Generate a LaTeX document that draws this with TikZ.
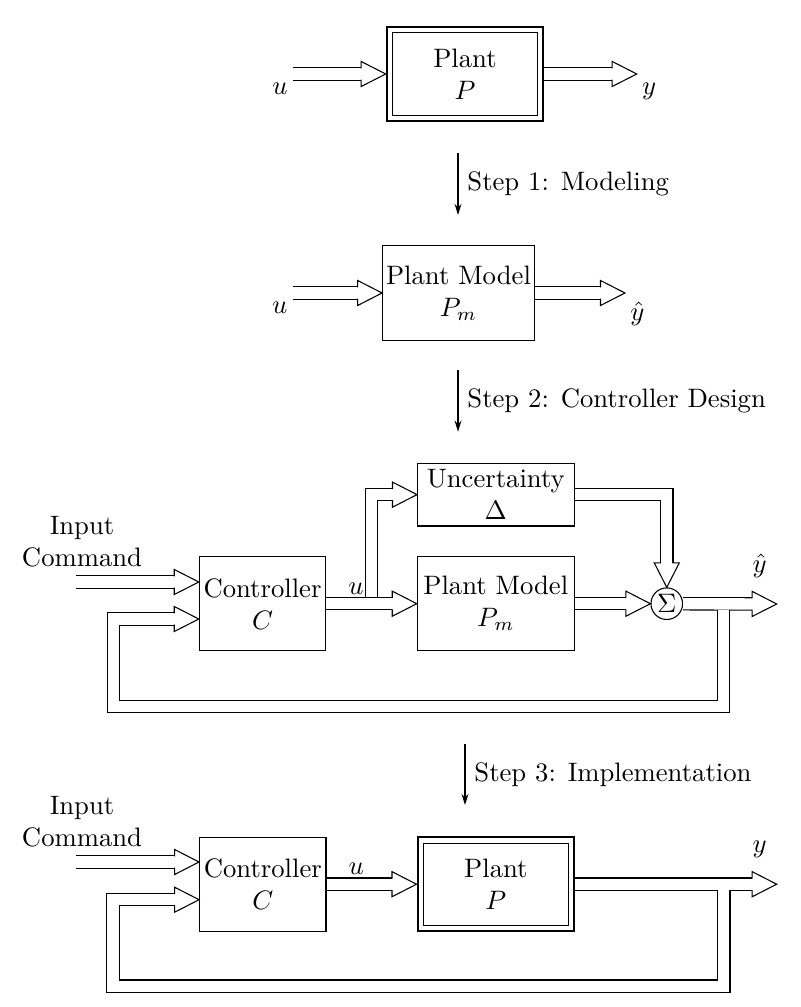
\documentclass[tikz,border=0pt]{standalone}
\usetikzlibrary{arrows.meta,positioning}

% hollow head for the double signal lines
\pgfdeclarearrow{
  name = Hollow,
  parameters = {\the\pgfarrowlength,\the\pgfarrowwidth},
  setup code = {
    \pgfarrowssettipend{0pt}
    \pgfarrowssetlineend{-\pgfarrowlength}
    \pgfarrowssetbackend{-\pgfarrowlength}
    \pgfarrowssetvisualbackend{-\pgfarrowlength}
    \pgfarrowshullpoint{0pt}{0pt}
    \pgfarrowsupperhullpoint{-\pgfarrowlength}{.5\pgfarrowwidth}
    \pgfarrowssavethe\pgfarrowlength
    \pgfarrowssavethe\pgfarrowwidth
  },
  drawing code = {
    \pgfsetlinewidth{0.4pt}
    \pgfsetmiterjoin
    \pgfpathmoveto{\pgfqpoint{-\pgfarrowlength}{.5\pgfarrowwidth}}
    \pgfpathlineto{\pgfqpoint{0pt}{0pt}}
    \pgfpathlineto{\pgfqpoint{-\pgfarrowlength}{-.5\pgfarrowwidth}}
    \pgfpathclose
    \pgfsetfillcolor{white}
    \pgfusepathqfill
    \pgfpathmoveto{\pgfqpoint{-\pgfarrowlength}{2.1pt}}
    \pgfpathlineto{\pgfqpoint{-\pgfarrowlength}{.5\pgfarrowwidth}}
    \pgfpathlineto{\pgfqpoint{0pt}{0pt}}
    \pgfpathlineto{\pgfqpoint{-\pgfarrowlength}{-.5\pgfarrowwidth}}
    \pgfpathlineto{\pgfqpoint{-\pgfarrowlength}{-2.1pt}}
    \pgfusepathqstroke
  },
  defaults = {length=9.2pt, width=9.4pt}
}

\begin{document}
\begin{tikzpicture}[x=0.375pt,y=-0.375pt,
  block/.style={draw, rectangle, inner sep=1pt, align=center, minimum height=35.3pt},
  plantbox/.style={block, line width=0.8pt, minimum width=58.7pt, minimum height=35.2pt,
    path picture={\draw[line width=0.4pt]
      ([shift={(2.2pt,2.2pt)}]path picture bounding box.south west) rectangle
      ([shift={(-2.2pt,-2.2pt)}]path picture bounding box.north east);}},
  sig/.style={double, double distance=4.25pt, -Hollow},
  stepline/.style={-{Stealth[length=4.2pt,width=2.6pt]}},
  sumnode/.style={draw, circle, inner sep=0pt, minimum size=11.85pt}]
  \useasboundingbox (0,0) rectangle (800,1007);

  % the plant
  \node[plantbox] (plant) at (465,74) {Plant\\$P$};
  \coordinate (uin) at (293,74);
  \coordinate (yout) at (636.7,74);
  \draw[sig] (uin) node[below left, inner xsep=1.8pt] {$u$} -- (plant);
  \draw[sig] (plant) -- (yout) node[below right, inner xsep=1.8pt] {$y$};

  \coordinate (s1top) at (458,153);
  \coordinate (s1bot) at (458,215);
  \draw[stepline] (s1top) -- node[right] {Step 1: Modeling} (s1bot);

  % the model
  \node[block, minimum width=56.9pt, minimum height=35.4pt] (model) at (458.5,293) {Plant Model\\$P_m$};
  \coordinate (umin) at (292.7,293);
  \coordinate (yhout) at (625,293);
  \draw[sig] (umin) node[below left, inner xsep=1.8pt] {$u$} -- (model);
  \draw[sig] (model) -- (yhout) node[below right, inner xsep=1.8pt] {$\hat{y}$};

  \coordinate (s2top) at (458,370);
  \coordinate (s2bot) at (458,431.7);
  \draw[stepline] (s2top) -- node[right] {Step 2: Controller Design} (s2bot);

  % design loop
  \node[block, minimum width=47.4pt] (ctrlA) at (262.5,603.7) {Controller\\$C$};
  \node[block, minimum width=58.9pt, node distance=87.5pt, right of=ctrlA] (modelB) {Plant Model\\$P_m$};
  \node[block, minimum width=58.7pt, minimum height=23.5pt, node distance=40.9pt, above of=modelB] (unc) {Uncertainty\\$\Delta$};
  \node[sumnode, node distance=64.1pt, right of=modelB] (sum) {$\Sigma$};
  \node[align=center] (cmdA) at (82,542) {Input\\Command};

  \coordinate (cinA) at (76,582);
  \coordinate (brA) at (371.7,603.7);
  \coordinate (yhA) at (776.7,604);
  \coordinate (fbA) at (723.3,609.7);
  \coordinate (fbA1) at (723.3,706.3);
  \coordinate (fbA2) at (113.3,706.3);
  \coordinate (fbA3) at (113.3,619);

  \draw[sig] (cinA) -- (cinA -| ctrlA.west);
  \draw[sig] (brA) |- (unc.west);
  \draw[sig] (ctrlA) -- node[above, pos=0.33] {$u$} (modelB);
  \draw[sig] (unc.east) -| (sum.north);
  \draw[sig] (modelB) -- (sum);
  \draw[sig] (sum) -- (yhA) node[above=6.5pt, xshift=-6.4pt] {$\hat{y}$};
  \draw[sig] (fbA) -- (fbA1) -- (fbA2) -- (fbA3) -- (fbA3 -| ctrlA.west);

  \coordinate (s3top) at (465,744.3);
  \coordinate (s3bot) at (465,805);
  \draw[stepline] (s3top) -- node[right] {Step 3: Implementation} (s3bot);

  % implementation loop
  \node[block, minimum width=47.4pt] (ctrlB) at (262.8,884.2) {Controller\\$C$};
  \node[plantbox, node distance=87.4pt, right of=ctrlB] (plantB) {Plant\\$P$};
  \node[align=center] (cmdB) at (82,822) {Input\\Command};

  \coordinate (cinB) at (76,862);
  \coordinate (yB) at (776.7,884.2);
  \coordinate (fbB) at (723.8,889.9);
  \coordinate (fbB1) at (723.8,986.2);
  \coordinate (fbB2) at (113,986.2);
  \coordinate (fbB3) at (113,899.7);

  \draw[sig] (cinB) -- (cinB -| ctrlB.west);
  \draw[sig] (ctrlB) -- node[above, pos=0.33] {$u$} (plantB);
  \draw[sig] (plantB) -- (yB) node[above=6.5pt, xshift=-6.4pt] {$y$};
  \draw[sig] (fbB) -- (fbB1) -- (fbB2) -- (fbB3) -- (fbB3 -| ctrlB.west);

\end{tikzpicture}
\end{document}
